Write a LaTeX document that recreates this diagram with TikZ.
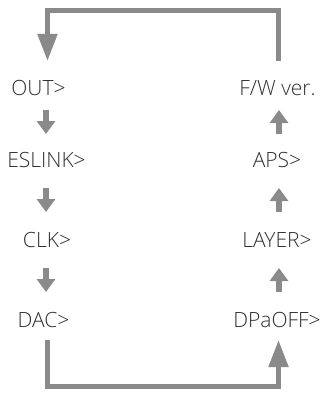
\documentclass[tikz,border=0pt]{standalone}
\usepackage{fontspec}
\setmainfont{Open Sans}[UprightFont=* Light]
\usetikzlibrary{arrows.meta}
\definecolor{txt}{HTML}{2E2E2E}
\definecolor{arr}{HTML}{8A8A8A}
\tikzset{
  lbl/.style={inner sep=0pt, text=txt, font=\fontsize{21}{22}\selectfont},
  bigarrow/.style={draw=arr, line width=5pt, -{Triangle[width=19pt,length=27pt]}},
  smallarrow/.style={draw=arr, line width=6pt, -{Triangle[width=18pt,length=13pt]}}
}
\begin{document}
\begin{tikzpicture}[x=1pt,y=-1pt]
\useasboundingbox (0,0) rectangle (323,396);
% left column
\node[lbl] (out)    at (38.5,88)  {OUT>};
\node[lbl] (eslink) at (46.5,160) {ESLINK>};
\node[lbl] (clk)    at (47,240)   {CLK>};
\node[lbl] (dac)    at (43.5,320) {DAC>};
% right column
\node[lbl] (fw)     at (277.5,88)  {F/W ver.};
\node[lbl] (aps)    at (277,160)   {APS>};
\node[lbl] (layer)  at (277,240)   {LAYER>};
\node[lbl] (dpaoff) at (277,320)   {DPaOFF>};
% small arrow endpoints
\coordinate (l1a) at (46,110);  \coordinate (l1b) at (46,134);
\coordinate (l2a) at (46,188);  \coordinate (l2b) at (46,212);
\coordinate (l3a) at (46,268);  \coordinate (l3b) at (46,292);
\coordinate (r1a) at (279,134); \coordinate (r1b) at (279,110);
\coordinate (r2a) at (279,212); \coordinate (r2b) at (279,188);
\coordinate (r3a) at (279,292); \coordinate (r3b) at (279,268);
\draw[smallarrow] (l1a) -- (l1b);
\draw[smallarrow] (l2a) -- (l2b);
\draw[smallarrow] (l3a) -- (l3b);
\draw[smallarrow] (r1a) -- (r1b);
\draw[smallarrow] (r2a) -- (r2b);
\draw[smallarrow] (r3a) -- (r3b);
% big loops
\coordinate (ts) at (278.5,61);
\coordinate (te) at (47.5,61);
\draw[bigarrow] (ts) |- (163,11) -| (te);
\coordinate (bs) at (47.5,340);
\coordinate (be) at (278.5,340);
\draw[bigarrow] (bs) |- (163,386) -| (be);
\end{tikzpicture}
\end{document}
